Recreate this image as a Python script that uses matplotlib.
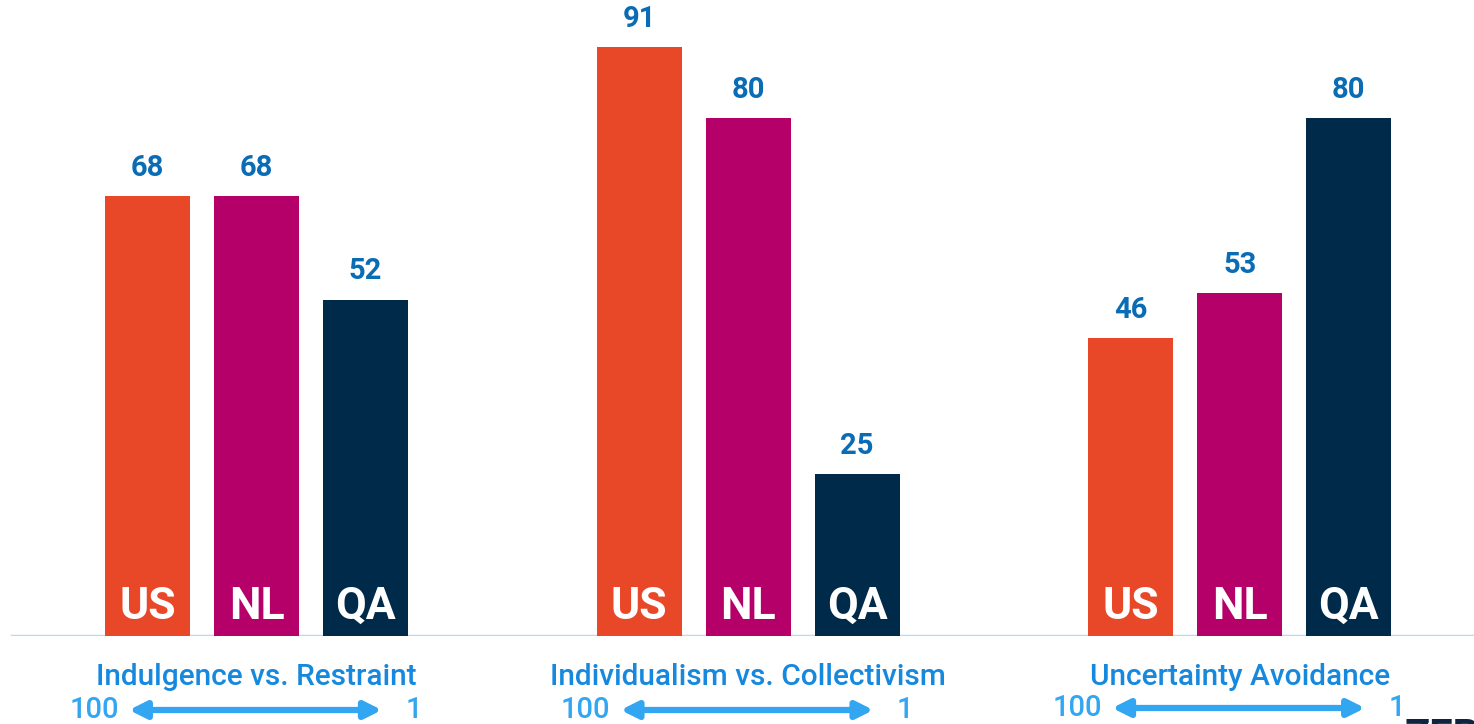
"""
Hofstede cultural dimension scores for US, NL and QA as grouped bars.
"""

import matplotlib.pyplot as plt
import matplotlib.patheffects as pe

dimensions = [
    "Indulgence vs. Restraint",
    "Individualism vs. Collectivism",
    "Uncertainty Avoidance",
]
countries = ["US", "NL", "QA"]
us_scores = [68, 91, 46]
nl_scores = [68, 80, 53]
qa_scores = [52, 25, 80]
scale_left = "100"
scale_right = "1"

colors = {"US": "#E84828", "NL": "#B5006A", "QA": "#002A4A"}
value_color = "#0A6CB4"
dim_color = "#1689DE"
arrow_color = "#33A6F2"

plt.rcParams["font.family"] = ["Roboto", "DejaVu Sans"]

fig = plt.figure(figsize=(14.74, 7.24), dpi=100)
ax = fig.add_axes([0, 88 / 724, 1, 636 / 724])
ax.set_xlim(-147.5 / 109, (1474 - 147.5) / 109)
ax.set_ylim(0, 636 / 6.47)
ax.axis("off")

group_gap = 4.51
bar_width = 0.78
scores = {"US": us_scores, "NL": nl_scores, "QA": qa_scores}
# the last group's scale row sits a little higher
scale_y = [14 / 724, 14 / 724, 16 / 724]

for g, dim in enumerate(dimensions):
    for i, c in enumerate(countries):
        x = g * group_gap + i
        v = scores[c][g]
        ax.bar(x, v, width=bar_width, color=colors[c], zorder=2)
        ax.text(x, v + 4.4, str(v), ha="center", va="center",
                fontsize=21, fontweight="bold", color=value_color)
        ax.text(x, 4.5, c, ha="center", va="center", fontsize=32,
                fontweight="bold", color="white", zorder=3)

    center = g * group_gap + 1
    coords = (ax.transData, fig.transFigure)
    sy = scale_y[g]
    ax.annotate(dim, xy=(center, 47 / 724), xycoords=coords,
                ha="center", va="center", fontsize=21.5,
                fontweight="medium", color=dim_color)
    ax.annotate(scale_left, xy=(center - 1.49, sy), xycoords=coords,
                ha="center", va="center", fontsize=21,
                fontweight="medium", color=arrow_color)
    ax.annotate(scale_right, xy=(center + 1.44, sy), xycoords=coords,
                ha="center", va="center", fontsize=21,
                fontweight="medium", color=arrow_color)
    ax.annotate("", xy=(center - 1.17, sy), xytext=(center + 1.15, sy),
                xycoords=coords, textcoords=coords,
                arrowprops=dict(arrowstyle="<|-|>,head_length=1.0,head_width=0.5",
                                color=arrow_color, lw=4.5, shrinkA=0, shrinkB=0,
                                path_effects=[pe.SimplePatchShadow(offset=(1, -2),
                                                                   alpha=0.25),
                                              pe.Normal()]))

ax.axhline(0, xmin=12 / 1474, xmax=1, color="#B5DBF8", lw=2.5, zorder=1)

# partial logo at the bottom-right corner, cut off by the frame
fig.text(1480 / 1474, 7 / 724, "ZEP", ha="right", va="top", fontsize=30,
         fontweight="bold", color="#0E2440")

fig.savefig("out.png", dpi=100)
